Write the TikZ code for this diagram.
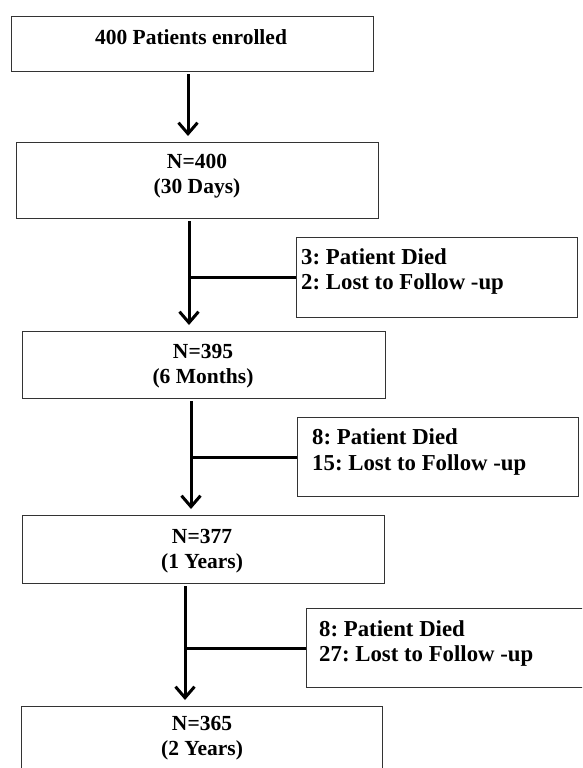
\documentclass[tikz,border=0pt]{standalone}
\usepackage{fontspec}
\setmainfont{Liberation Serif}
\usepackage{tikz}
\usetikzlibrary{arrows.meta, positioning}
\frenchspacing
\tikzstyle{box} = [draw=black!80, line width=1.3pt, inner sep=0pt, anchor=north west]
\tikzstyle{arrow} = [line width=3pt, -{Straight Barb[length=11pt,width=19pt]}, shorten <=2pt, shorten >=6pt]
\tikzstyle{branch} = [line width=3pt]
\tikzstyle{count} = [font=\bfseries\fontsize{21.5}{25.5}\selectfont, align=center, inner sep=0pt]
\tikzstyle{loss} = [font=\bfseries\fontsize{22.8}{25.5}\selectfont, align=left, inner sep=0pt, anchor=west]

\begin{document}
\begin{tikzpicture}[x=1pt,y=-1pt]
        \useasboundingbox (0,0) rectangle (582,768);
        \clip (0,0) rectangle (582,768);
        % main boxes
        \node[box, minimum width=362pt, minimum height=55pt] (enrol) at (11,16) {};
        \node[box, minimum width=362pt, minimum height=76pt] (n400) at (16,142) {};
        \node[box, minimum width=363pt, minimum height=67pt] (n395) at (22,331) {};
        \node[box, minimum width=362pt, minimum height=68pt] (n377) at (22,515) {};
        \node[box, minimum width=361pt, minimum height=80pt] (n365) at (21,706) {};
        \node[count] (tenrol) at (191,37) {400 Patients enrolled};
        \node[count] (t400) at (197,176) {N=400\\(30 Days)};
        \node[count] (t395) at (203,366) {N=395\\(6 Months)};
        \node[count] (t377) at (202,551) {N=377\\(1 Years)};
        \node[count] (t365) at (202,738) {N=365\\(2 Years)};
        % losses
        \node[box, minimum width=281pt, minimum height=80pt] (loss1) at (296,237) {};
        \node[box, minimum width=281pt, minimum height=79pt] (loss2) at (297,417) {};
        \node[box, minimum width=290pt, minimum height=79pt] (loss3) at (306,608) {};
        \node[loss] (tloss1) at (301,271.5) {3: Patient Died\\2: Lost to Follow -up};
        \node[loss] (tloss2) at (312,452) {8: Patient Died\\15: Lost to Follow -up};
        \node[loss] (tloss3) at (319,643.5) {8: Patient Died\\27: Lost to Follow -up};
        % arrows
        \coordinate (ax1) at (188,0);
        \coordinate (ax2) at (189,0);
        \coordinate (ax3) at (191,0);
        \coordinate (ax4) at (185,0);
        \draw[arrow] (enrol.south -| ax1) -- (n400.north -| ax1);
        \draw[arrow] (n400.south -| ax2) -- (n395.north -| ax2);
        \draw[arrow] (n395.south -| ax3) -- (n377.north -| ax3);
        \draw[arrow] (n377.south -| ax4) -- (n365.north -| ax4);
        \draw[branch] (loss1.west) -- (loss1.west -| ax2);
        \draw[branch] (loss2.west) -- (loss2.west -| ax3);
        \draw[branch] (loss3.west) -- (loss3.west -| ax4);
\end{tikzpicture}
\end{document}
